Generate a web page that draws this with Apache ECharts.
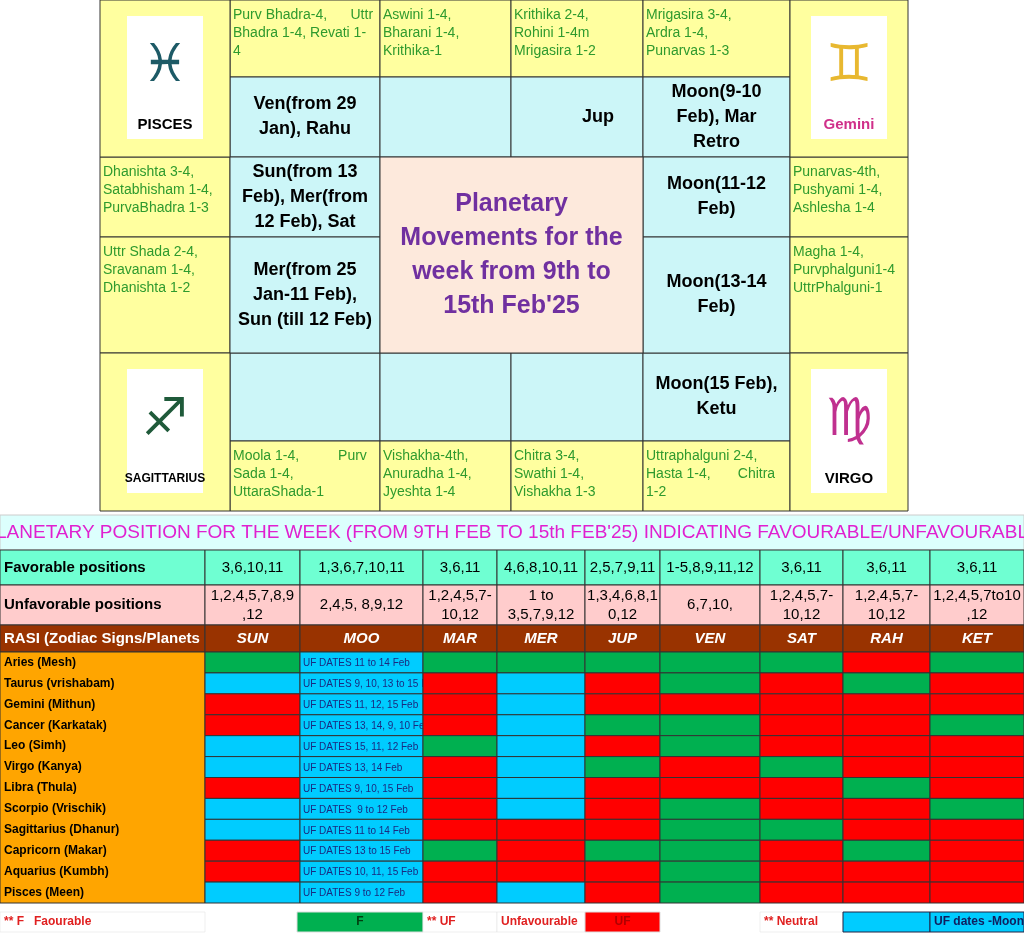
<!DOCTYPE html>
<html>
<head>
<meta charset="utf-8" />
<script src="https://cdn.jsdelivr.net/npm/echarts@6/dist/echarts.min.js"></script>
<title>Planetary Movements</title>
<style>body{margin:0;background:#fff}</style>
</head>
<body>
<div id="main" style="width:1024px;height:937px;"></div>
<script type="text/javascript">
// 表格数据
var planets = ['SUN', 'MOO', 'MAR', 'MER', 'JUP', 'VEN', 'SAT', 'RAH', 'KET'];
var favorable = ['3,6,10,11', '1,3,6,7,10,11', '3,6,11', '4,6,8,10,11', '2,5,7,9,11', '1-5,8,9,11,12', '3,6,11', '3,6,11', '3,6,11'];
var unfavorable = ['1,2,4,5,7,8,9\n,12', '2,4,5, 8,9,12', '1,2,4,5,7-\n10,12', '1 to\n3,5,7,9,12', '1,3,4,6,8,1\n0,12', '6,7,10,', '1,2,4,5,7-\n10,12', '1,2,4,5,7-\n10,12', '1,2,4,5,7to10\n,12'];
var rasis = ['Aries (Mesh)', 'Taurus (vrishabam)', 'Gemini (Mithun)', 'Cancer (Karkatak)', 'Leo (Simh)', 'Virgo (Kanya)', 'Libra (Thula)', 'Scorpio (Vrischik)', 'Sagittarius (Dhanur)', 'Capricorn (Makar)', 'Aquarius (Kumbh)', 'Pisces (Meen)'];
// G=favourable R=unfavourable B=neutral
var cellStatus = [
  'GBGGGGGRG', 'BBRBRGRGR', 'RBRBRRRRR', 'RBRBGGRRG',
  'BBGBRGRRR', 'BBRBGRGRR', 'RBRBRRRGR', 'BBRBRGRRG',
  'BBRRRGGRR', 'RBGRGGRGR', 'RBRRRGRRR', 'BBRBRGRRR'
];
var moonDates = ['UF DATES 11 to 14 Feb', 'UF DATES 9, 10, 13 to 15 Feb', 'UF DATES 11, 12, 15 Feb', 'UF DATES 13, 14, 9, 10 Feb',
  'UF DATES 15, 11, 12 Feb', 'UF DATES 13, 14 Feb', 'UF DATES 9, 10, 15 Feb', 'UF DATES  9 to 12 Feb',
  'UF DATES 11 to 14 Feb', 'UF DATES 13 to 15 Feb', 'UF DATES 10, 11, 15 Feb', 'UF DATES 9 to 12 Feb'];

// 南印度式星盘文字
var nakTop = ['Purv Bhadra-4,      Uttr\nBhadra 1-4, Revati 1-\n4', 'Aswini 1-4,\nBharani 1-4,\nKrithika-1', 'Krithika 2-4,\nRohini 1-4m\nMrigasira 1-2', 'Mrigasira 3-4,\nArdra 1-4,\nPunarvas 1-3'];
var nakBottom = ['Moola 1-4,          Purv\nSada 1-4,\nUttaraShada-1', 'Vishakha-4th,\nAnuradha 1-4,\nJyeshta 1-4', 'Chitra 3-4,\nSwathi 1-4,\nVishakha 1-3', 'Uttraphalguni 2-4,\nHasta 1-4,       Chitra\n1-2'];
var nakLeft = ['Dhanishta 3-4,\nSatabhisham 1-4,\nPurvaBhadra 1-3', 'Uttr Shada 2-4,\nSravanam 1-4,\nDhanishta 1-2'];
var nakRight = ['Punarvas-4th,\nPushyami 1-4,\nAshlesha 1-4', 'Magha 1-4,\nPurvphalguni1-4\nUttrPhalguni-1'];
var plTop = ['Ven(from 29\nJan), Rahu', '', 'Jup', 'Moon(9-10\nFeb), Mar\nRetro'];
var plBottom = ['', '', '', 'Moon(15 Feb),\nKetu'];
var plLeft = ['Sun(from 13\nFeb), Mer(from\n12 Feb), Sat', 'Mer(from 25\nJan-11 Feb),\nSun (till 12 Feb)'];
var plRight = ['Moon(11-12\nFeb)', 'Moon(13-14\nFeb)'];
var signs = [['PISCES', '\u2653', '#1d5a66', '#000'], ['Gemini', '\u264A', '#e8b830', '#d0308a'], ['SAGITTARIUS', '\u2650', '#1f5a3a', '#000'], ['VIRGO', '\u264D', '#c0308f', '#000']];

var FONT = '"Liberation Sans Narrow", "Arial Narrow", "Liberation Sans", sans-serif';
var XS = [100, 230, 380, 511, 643, 790, 908];
var YS = [0, 77, 157, 237, 353, 441, 511];
var COLS = [205, 300, 423, 497, 585, 660, 760, 843, 930, 1024];
var YELLOW = '#ffff9f', CYAN = '#ccf6f8', LINE = '#333';
var colors = { G: '#00b050', R: '#ff0000', B: '#00ccff' };

var g = [];
function rect(x, y, w, h, fill, stroke, lw) {
  g.push({ type: 'rect', shape: { x: x, y: y, width: w, height: h },
    style: { fill: fill, stroke: stroke || LINE, lineWidth: lw == null ? 1 : lw } });
}
function text(x, y, s, o) {
  g.push({ type: 'text', x: x, y: y, z: 10, style: Object.assign({ text: s, fontFamily: FONT }, o) });
}
function nak(x, y, w, h, s) {
  rect(x, y, w, h, YELLOW);
  text(x + 3, y + 6, s, { fill: '#2e9a2e', fontSize: 14, lineHeight: 18 });
}
function pl(x, y, w, h, s, al) {
  rect(x, y, w, h, CYAN);
  text(al === 'right' ? x + w - 45 : x + w / 2, y + h / 2, s, { fill: '#000', fontSize: 18, fontWeight: 'bold', lineHeight: 25, align: 'center', verticalAlign: 'middle' });
}
function sign(x, y, w, h, sg) {
  rect(x, y, w, h, YELLOW);
  var bw = 76, bh = h - 34;
  rect(x + (w - bw) / 2, y + 16, bw, bh, '#fff', '#fff', 0);
  text(x + w / 2, y + 16 + bh / 2 - 10, sg[1], { fill: sg[2], fontSize: 52, align: 'center', verticalAlign: 'middle', fontFamily: 'DejaVu Sans' });
  text(x + w / 2, y + 16 + bh - 14, sg[0], { fill: sg[3], fontSize: sg[0].length > 8 ? 12 : 15, fontWeight: 'bold', align: 'center', verticalAlign: 'middle' });
}

// 星盘
for (var i = 0; i < 4; i++) {
  nak(XS[i + 1], YS[0], XS[i + 2] - XS[i + 1], YS[1] - YS[0], nakTop[i]);
  pl(XS[i + 1], YS[1], XS[i + 2] - XS[i + 1], YS[2] - YS[1], plTop[i], i === 2 ? 'right' : '');
  pl(XS[i + 1], YS[4], XS[i + 2] - XS[i + 1], YS[5] - YS[4], plBottom[i]);
  nak(XS[i + 1], YS[5], XS[i + 2] - XS[i + 1], YS[6] - YS[5], nakBottom[i]);
}
for (var j = 0; j < 2; j++) {
  nak(XS[0], YS[j + 2], XS[1] - XS[0], YS[j + 3] - YS[j + 2], nakLeft[j]);
  pl(XS[1], YS[j + 2], XS[2] - XS[1], YS[j + 3] - YS[j + 2], plLeft[j]);
  pl(XS[4], YS[j + 2], XS[5] - XS[4], YS[j + 3] - YS[j + 2], plRight[j]);
  nak(XS[5], YS[j + 2], XS[6] - XS[5], YS[j + 3] - YS[j + 2], nakRight[j]);
}
sign(XS[0], YS[0], XS[1] - XS[0], YS[2], signs[0]);
sign(XS[5], YS[0], XS[6] - XS[5], YS[2], signs[1]);
sign(XS[0], YS[4], XS[1] - XS[0], YS[6] - YS[4], signs[2]);
sign(XS[5], YS[4], XS[6] - XS[5], YS[6] - YS[4], signs[3]);
rect(XS[2], YS[2], XS[4] - XS[2], YS[4] - YS[2], '#fde9dc');
text((XS[2] + XS[4]) / 2, (YS[2] + YS[4]) / 2, 'Planetary\nMovements for the\nweek from 9th to\n15th Feb\'25',
  { fill: '#7030a0', fontSize: 25, fontWeight: 'bold', lineHeight: 34, align: 'center', verticalAlign: 'middle' });

// 表头
rect(0, 515, 1024, 35, '#dcfffd', '#ccc');
text(512, 533, 'PLANETARY POSITION FOR THE WEEK (FROM 9TH FEB TO 15th FEB\'25) INDICATING FAVOURABLE/UNFAVOURABLE',
  { fill: '#e020d0', fontSize: 19, align: 'center', verticalAlign: 'middle' });
var hdr = [['Favorable positions', favorable, 550, 35, '#6fffd2', '#000', 'normal'],
           ['Unfavorable positions', unfavorable, 585, 40, '#ffcccc', '#000', 'normal'],
           ['RASI (Zodiac Signs/Planets', planets, 625, 27, '#993300', '#fff', 'italic']];
hdr.forEach(function (h) {
  rect(0, h[2], COLS[0], h[3], h[4]);
  text(4, h[2] + h[3] / 2, h[0], { fill: h[5], fontSize: 15, fontWeight: 'bold', verticalAlign: 'middle' });
  for (var k = 0; k < 9; k++) {
    rect(COLS[k], h[2], COLS[k + 1] - COLS[k], h[3], h[4]);
    text((COLS[k] + COLS[k + 1]) / 2, h[2] + h[3] / 2, h[1][k], { fill: h[5], fontSize: 15, lineHeight: 19,
      fontWeight: h[6] === 'italic' ? 'bold' : 'normal', fontStyle: h[6], align: 'center', verticalAlign: 'middle' });
  }
});
rect(0, 652, COLS[0], 251, '#ffa500', LINE, 1);

// 图例
var lg = [[0, 205, '', '** F   Faourable', '#e02020', 'left'], [297, 423, '#00b050', 'F', '#004010', 'center'],
  [423, 497, '', '** UF', '#e02020', 'left'], [497, 585, '', 'Unfavourable', '#e02020', 'left'],
  [585, 660, '#ff0000', 'UF', '#b00000', 'center'], [760, 843, '', '** Neutral', '#e02020', 'left'],
  [843, 930, '#00ccff', '', '#000', 'center'], [930, 1024, '#00ccff', 'UF dates -Moon', '#102060', 'left']];
lg.forEach(function (l) {
  rect(l[0], 912, l[1] - l[0], 20, l[2] || '#fff', l[2] === '#00ccff' ? '#224' : '#ddd', l[2] ? 1 : 0.5);
  text(l[5] === 'center' ? (l[0] + l[1]) / 2 : l[0] + 4, 922, l[3],
    { fill: l[4], fontSize: 12, fontWeight: 'bold', align: l[5], verticalAlign: 'middle' });
});

// 星位矩阵
var cells = [];
cellStatus.forEach(function (row, r) {
  for (var c = 0; c < 9; c++) cells.push([c, r, row.charAt(c)]);
});

var dom = document.getElementById('main');
var myChart = echarts.init(dom);
var option = {
  animation: false,
  grid: { left: COLS[0], right: 0, top: 652, bottom: 937 - 903 },
  xAxis: { type: 'value', min: 0, max: COLS[9] - COLS[0], show: false },
  yAxis: {
    type: 'category', data: rasis, inverse: true,
    axisLine: { show: false }, axisTick: { show: false }, splitLine: { show: false },
    axisLabel: { align: 'left', margin: COLS[0] - 4, color: '#000', fontSize: 12, fontWeight: 'bold', fontFamily: FONT }
  },
  graphic: g,
  series: [{
    type: 'custom',
    data: cells,
    encode: { x: 0, y: 1 },
    renderItem: function (params, api) {
      var c = api.value(0), r = api.value(1);
      var st = cells[params.dataIndex][2];
      var p0 = api.coord([COLS[c] - COLS[0], r]);
      var p1 = api.coord([COLS[c + 1] - COLS[0], r]);
      var h = api.size([0, 1])[1];
      var children = [{ type: 'rect', shape: { x: p0[0], y: p0[1] - h / 2, width: p1[0] - p0[0], height: h },
        style: { fill: colors[st], stroke: '#333', lineWidth: 1 } }];
      if (c === 1) children.push({ type: 'text', x: p0[0] + 3, y: p0[1] + 1,
        style: { text: moonDates[r], fill: '#1a2a80', fontSize: 10, fontFamily: FONT, verticalAlign: 'middle' } });
      return { type: 'group', children: children };
    }
  }]
};
myChart.setOption(option);
</script>
</body>
</html>
